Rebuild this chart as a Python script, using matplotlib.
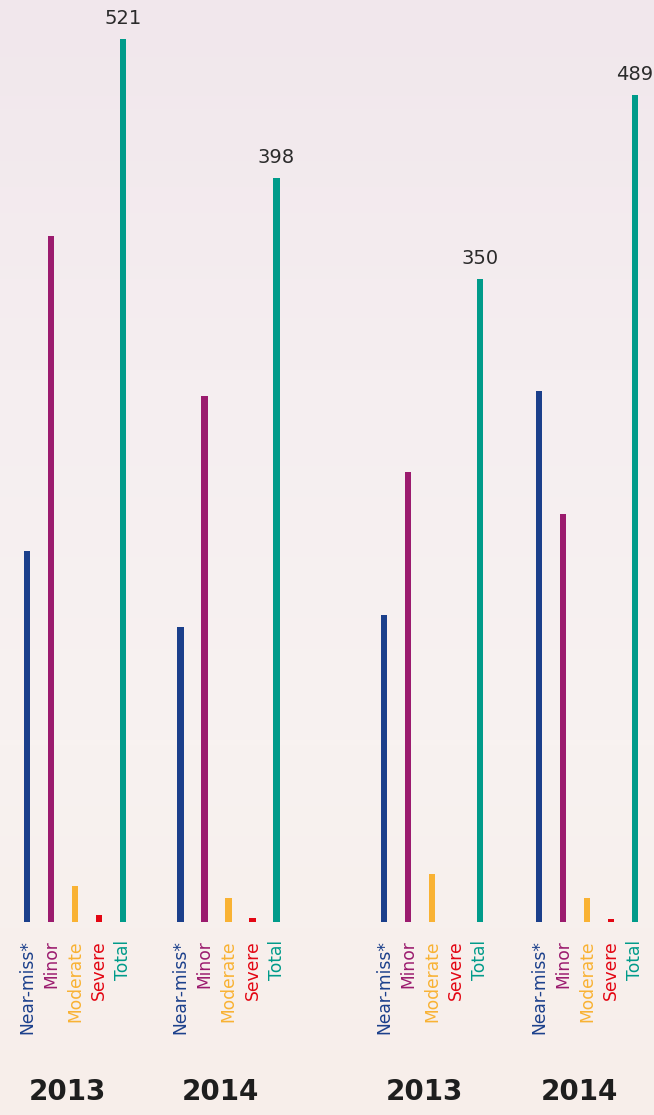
import numpy as np
import matplotlib
matplotlib.use("Agg")
import matplotlib.pyplot as plt
from matplotlib.colors import LinearSegmentedColormap

categories = ["Near-miss*", "Minor", "Moderate", "Severe", "Total"]
years = ["2013", "2014", "2013", "2014"]
near_miss = [219, 158, 167, 314]
minor = [405, 281, 245, 241]
moderate = [21, 13, 26, 14]
severe = [4, 2, 0, 2]
total = [521, 398, 350, 489]

colors = ["#1b3f8b", "#9b1b6e", "#f9b233", "#e30613", "#009b8a"]

# layout (pixels of the 654x1115 picture)
W, H = 654, 1115
base_px = 922            # bar baseline
group_centers = [75, 228.5, 432, 587]
step = 24                # distance between bars
y_tops = [544, 493, 502, 545]   # each block is drawn on its own scale

fig = plt.figure(figsize=(W / 100, H / 100), dpi=100)

# soft background gradient
bg = fig.add_axes([0, 0, 1, 1])
cmap = LinearSegmentedColormap.from_list("bg", ["#f1e7ec", "#f5eef0", "#f8f2f0", "#f7eeea"])
grad = np.linspace(0, 1, 256).reshape(-1, 1)
bg.imshow(grad, cmap=cmap, aspect="auto", extent=[0, 1, 0, 1])
bg.axis("off")

for g in range(4):
    values = [near_miss[g], minor[g], moderate[g], severe[g], total[g]]
    left = (group_centers[g] - 2.5 * step) / W
    ax = fig.add_axes([left, (H - base_px) / H, 5 * step / W, base_px / H])
    ax.patch.set_alpha(0)
    x = np.arange(len(categories))
    ax.bar(x, values, width=0.26, color=colors)
    ax.set_xlim(-0.5, 4.5)
    ax.set_ylim(0, y_tops[g])
    ax.axis("off")

    # value on top of the total bar
    ax.annotate(str(total[g]), (4, total[g]), xytext=(0, 8), textcoords="offset points",
                ha="center", va="bottom", fontsize=14, color="#2b2b2b",
                annotation_clip=False)

    # rotated category names under the bars
    for i, name in enumerate(categories):
        ax.text(i, -18 / base_px, name, transform=ax.get_xaxis_transform(),
                rotation=90, ha="center", va="top", fontsize=12.3,
                color=colors[i], clip_on=False)

    # year below each block
    ax.text(1.68, -170 / base_px, years[g], transform=ax.get_xaxis_transform(),
            ha="center", va="center", fontsize=20, fontweight="semibold",
            color="#1e1e1e", clip_on=False)

fig.savefig("out.png", dpi=100)
